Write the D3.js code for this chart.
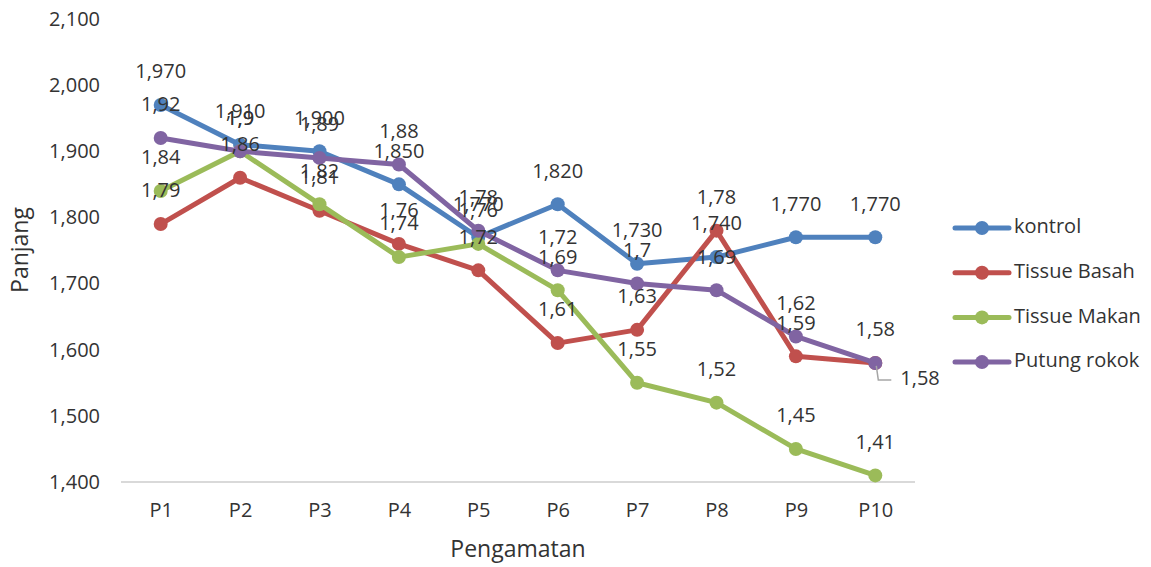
<!DOCTYPE html>
<html>
<head>
<meta charset="utf-8">
<script src="https://cdn.jsdelivr.net/npm/d3@7"></script>
<style>
  html, body { margin: 0; padding: 0; background: #fff; }
  svg { display: block; }
  text { font-family: "Open Sans", "Noto Sans", sans-serif; fill: #333; }
</style>
</head>
<body>
<svg id="chart" width="1151" height="567"></svg>
<script>
// Observation points
const categories = ["P1", "P2", "P3", "P4", "P5", "P6", "P7", "P8", "P9", "P10"];

// Length per observation for each treatment
const kontrol      = [1970, 1910, 1900, 1850, 1770, 1820, 1730, 1740, 1770, 1770];
const tissueBasah  = [1790, 1860, 1810, 1760, 1720, 1610, 1630, 1780, 1590, 1580];
const tissueMakan  = [1840, 1900, 1820, 1740, 1760, 1690, 1550, 1520, 1450, 1410];
const putungRokok  = [1920, 1900, 1890, 1880, 1780, 1720, 1700, 1690, 1620, 1580];

const seriesNames  = ["kontrol", "Tissue Basah", "Tissue Makan", "Putung rokok"];
const yTicks       = [1400, 1500, 1600, 1700, 1800, 1900, 2000, 2100];

const colors = ["#4f81bd", "#c0504d", "#9bbb59", "#8064a2"];
const textColor = "#333";

// kontrol is labelled in thousands-separated form, the others as decimals
const fmtThousands = d3.format(",");
const fmtDecimal = v => String(v / 1000).replace(".", ",");

const series = [
  { name: seriesNames[0], values: kontrol,     color: colors[0], fmt: fmtThousands },
  { name: seriesNames[1], values: tissueBasah, color: colors[1], fmt: fmtDecimal },
  { name: seriesNames[2], values: tissueMakan, color: colors[2], fmt: fmtDecimal },
  { name: seriesNames[3], values: putungRokok, color: colors[3], fmt: fmtDecimal }
];

const svg = d3.select("#chart");
const plot = { left: 121, right: 915, top: 19, bottom: 482 };

const x = d3.scalePoint()
  .domain(categories)
  .range([plot.left, plot.right])
  .padding(0.5);

const y = d3.scaleLinear()
  .domain([1400, 2100])
  .range([plot.bottom, plot.top]);

// Y axis: labels only
const yAxis = d3.axisLeft(y)
  .tickValues(yTicks)
  .tickFormat(d3.format(","))
  .tickSize(0)
  .tickPadding(0);
const yg = svg.append("g")
  .attr("transform", `translate(${plot.left - 21},0)`)
  .call(yAxis);
yg.select(".domain").remove();
yg.selectAll("text")
  .attr("font-size", 20)
  .attr("font-family", null)
  .attr("fill", textColor);

// X axis: baseline and category labels
const xAxis = d3.axisBottom(x).tickSize(0).tickPadding(0);
const xg = svg.append("g")
  .attr("transform", `translate(0,${plot.bottom})`)
  .call(xAxis);
xg.select(".domain")
  .attr("d", `M${plot.left},0H${plot.right}`)
  .attr("stroke", "#d9d9d9")
  .attr("stroke-width", 2);
xg.selectAll("text")
  .attr("font-size", 20)
  .attr("font-family", null)
  .attr("fill", textColor)
  .attr("dy", null)
  .attr("y", 30)
  .attr("dominant-baseline", "middle");

// Axis titles
svg.append("text")
  .attr("x", (plot.left + plot.right) / 2)
  .attr("y", 551)
  .attr("text-anchor", "middle")
  .attr("dominant-baseline", "middle")
  .attr("font-size", 23)
  .text("Pengamatan");

svg.append("text")
  .attr("transform", `translate(22,${250}) rotate(-90)`)
  .attr("text-anchor", "middle")
  .attr("dominant-baseline", "middle")
  .attr("font-size", 23)
  .text("Panjang");

// Lines and markers
const line = d3.line()
  .x((d, i) => x(categories[i]))
  .y(d => y(d));

const sg = svg.append("g").selectAll("g")
  .data(series)
  .join("g");

sg.append("path")
  .attr("d", d => line(d.values))
  .attr("fill", "none")
  .attr("stroke", d => d.color)
  .attr("stroke-width", 5)
  .attr("stroke-linejoin", "round")
  .attr("stroke-linecap", "round");

sg.selectAll("circle")
  .data(d => d.values.map((v, i) => ({ v, i, color: d.color })))
  .join("circle")
  .attr("cx", d => x(categories[d.i]))
  .attr("cy", d => y(d.v))
  .attr("r", 7)
  .attr("fill", d => d.color);

// Data labels above each point; the last "Putung rokok" label sits to the right with a leader
const labels = svg.append("g");
series.forEach((s, si) => {
  s.values.forEach((v, i) => {
    const px = x(categories[i]);
    const py = y(v);
    const moved = (si === 3 && i === categories.length - 1);
    if (moved) {
      labels.append("path")
        .attr("d", `M${px + 1},${py + 3}L${px + 3},${py + 17}H${px + 16}`)
        .attr("fill", "none")
        .attr("stroke", "#a6a6a6")
        .attr("stroke-width", 1.5);
      labels.append("text")
        .attr("x", px + 25)
        .attr("y", py + 17)
        .attr("dominant-baseline", "middle")
        .attr("font-size", 20)
        .text(s.fmt(v));
    } else {
      labels.append("text")
        .attr("x", px)
        .attr("y", py - 32)
        .attr("text-anchor", "middle")
        .attr("dominant-baseline", "middle")
        .attr("font-size", 20)
        .text(s.fmt(v));
    }
  });
});

// Legend
const legend = svg.append("g");
series.forEach((s, i) => {
  const ly = 228 + i * 44.7;
  legend.append("line")
    .attr("x1", 955).attr("x2", 1009)
    .attr("y1", ly).attr("y2", ly)
    .attr("stroke", s.color)
    .attr("stroke-width", 5)
    .attr("stroke-linecap", "round");
  legend.append("circle")
    .attr("cx", 982).attr("cy", ly).attr("r", 7)
    .attr("fill", s.color);
  legend.append("text")
    .attr("x", 1014).attr("y", ly)
    .attr("dominant-baseline", "middle")
    .attr("font-size", 20)
    .text(s.name);
});
</script>
</body>
</html>
